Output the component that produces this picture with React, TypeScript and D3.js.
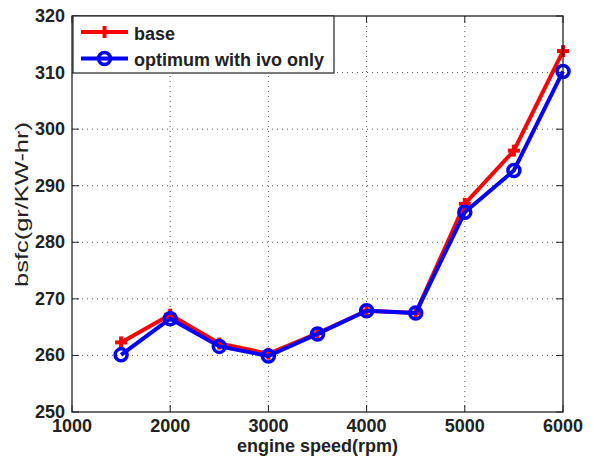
import React from "react";
import * as d3 from "d3";

const speeds = [1500, 2000, 2500, 3000, 3500, 4000, 4500, 5000, 5500, 6000];
const baseBsfc = [262.3, 267.2, 262.1, 260.3, 263.9, 267.9, 267.5, 286.8, 296.2, 313.8];
const optimumBsfc = [260.1, 266.5, 261.6, 259.9, 263.8, 267.9, 267.5, 285.3, 292.7, 310.2];
const xTicks = [1000, 2000, 3000, 4000, 5000, 6000];
const yTicks = [250, 260, 270, 280, 290, 300, 310, 320];
const seriesNames = ["base", "optimum with ivo only"];

const W = 594;
const H = 459;
const left = 72;
const right = 563;
const top = 16;
const bottom = 412;

export default function App() {
  const x = d3.scaleLinear().domain([1000, 6000]).range([left, right]);
  const y = d3.scaleLinear().domain([250, 320]).range([bottom, top]);
  const line = d3
    .line<number>()
    .x((_, i) => x(speeds[i]))
    .y((v) => y(v));

  const font = "Arial, 'Liberation Sans', sans-serif";
  const tickLen = 7;

  return (
    <svg
      width={W}
      height={H}
      style={{ position: "absolute", left: 0, top: 0, background: "#fff" }}
      fontFamily={font}
    >
      <rect x={0} y={0} width={W} height={H} fill="#fff" />
      {/* grid */}
      <g stroke="#555" strokeWidth={1} strokeDasharray="1,4">
        {xTicks.slice(1, -1).map((t) => (
          <line key={"gx" + t} x1={x(t)} x2={x(t)} y1={top} y2={bottom} />
        ))}
        {yTicks.slice(1, -1).map((t) => (
          <line key={"gy" + t} x1={left} x2={right} y1={y(t)} y2={y(t)} />
        ))}
      </g>
      {/* ticks */}
      <g stroke="#222" strokeWidth={1}>
        {xTicks.map((t) => (
          <g key={"tx" + t}>
            <line x1={x(t)} x2={x(t)} y1={bottom} y2={bottom - tickLen} />
            <line x1={x(t)} x2={x(t)} y1={top} y2={top + tickLen} />
          </g>
        ))}
        {yTicks.map((t) => (
          <g key={"ty" + t}>
            <line x1={left} x2={left + tickLen} y1={y(t)} y2={y(t)} />
            <line x1={right} x2={right - tickLen} y1={y(t)} y2={y(t)} />
          </g>
        ))}
      </g>
      {/* series */}
      <path d={line(baseBsfc) ?? ""} fill="none" stroke="#ff0000" strokeWidth={4} strokeLinejoin="round" />
      {baseBsfc.map((v, i) => (
        <g key={"bm" + i} stroke="#ff0000" strokeWidth={4}>
          <line x1={x(speeds[i]) - 6} x2={x(speeds[i]) + 6} y1={y(v)} y2={y(v)} />
          <line x1={x(speeds[i])} x2={x(speeds[i])} y1={y(v) - 6} y2={y(v) + 6} />
        </g>
      ))}
      <path d={line(optimumBsfc) ?? ""} fill="none" stroke="#0000ff" strokeWidth={4} strokeLinejoin="round" />
      {optimumBsfc.map((v, i) => (
        <circle key={"om" + i} cx={x(speeds[i])} cy={y(v)} r={6} fill="none" stroke="#0000ff" strokeWidth={3.5} />
      ))}
      {/* frame */}
      <rect x={left} y={top} width={right - left} height={bottom - top} fill="none" stroke="#222" strokeWidth={1.3} />
      {/* tick labels */}
      <g fontSize={18} fontWeight="bold" fill="#222">
        {xTicks.map((t) => (
          <text key={"lx" + t} x={x(t)} y={432} textAnchor="middle">
            {t}
          </text>
        ))}
        {yTicks.map((t) => (
          <text key={"ly" + t} x={left - 7} y={y(t) + 6} textAnchor="end">
            {t}
          </text>
        ))}
      </g>
      <text x={(left + right) / 2} y={452} textAnchor="middle" fontSize={18} fontWeight="bold" fill="#222">
        engine speed(rpm)
      </text>
      <text
        transform={`translate(28,204.5) rotate(-90)`}
        textAnchor="middle"
        fontSize={19}
        textLength={165}
        lengthAdjust="spacingAndGlyphs"
        fill="#222"
      >
        bsfc(gr/KW-hr)
      </text>
      {/* legend */}
      <g>
        <rect x={73} y={16} width={261} height={57} fill="#fff" stroke="#222" strokeWidth={1.2} />
        <line x1={81} x2={128} y1={32} y2={32} stroke="#ff0000" strokeWidth={4} />
        <line x1={104.5 - 6} x2={104.5 + 6} y1={32} y2={32} stroke="#ff0000" strokeWidth={4} />
        <line x1={104.5} x2={104.5} y1={26} y2={38} stroke="#ff0000" strokeWidth={4} />
        <line x1={81} x2={128} y1={58.5} y2={58.5} stroke="#0000ff" strokeWidth={4} />
        <circle cx={104.5} cy={58.5} r={6} fill="none" stroke="#0000ff" strokeWidth={3.5} />
        <text x={134} y={40} fontSize={18} fontWeight="bold" fill="#222">
          {seriesNames[0]}
        </text>
        <text x={134} y={66} fontSize={18} fontWeight="bold" fill="#222">
          {seriesNames[1]}
        </text>
      </g>
    </svg>
  );
}
